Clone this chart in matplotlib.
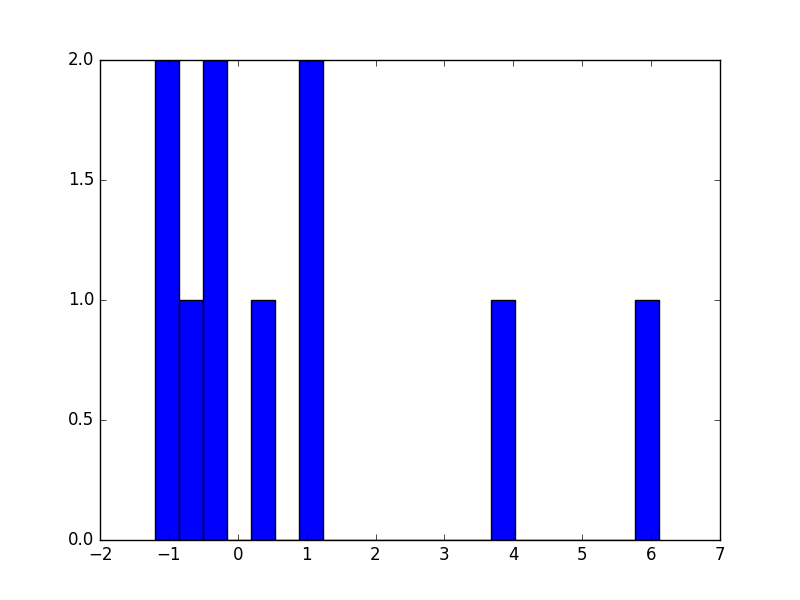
import matplotlib
matplotlib.use("Agg")
import matplotlib.pyplot as plt

# sample values (21 equal bins between min and max)
values = [-1.2, -0.95, -0.7, -0.4, -0.3, 0.35, 1.0, 1.1, 3.8, 6.11]
n_bins = 21

plt.style.use("classic")

fig, ax = plt.subplots(figsize=(8, 6), dpi=100)
ax.hist(values, bins=n_bins, color="blue", edgecolor="black")
ax.set_xlim(-2, 7)
ax.set_ylim(0, 2)
ax.set_yticks([0.0, 0.5, 1.0, 1.5, 2.0])

fig.savefig("out.png", dpi=100)
